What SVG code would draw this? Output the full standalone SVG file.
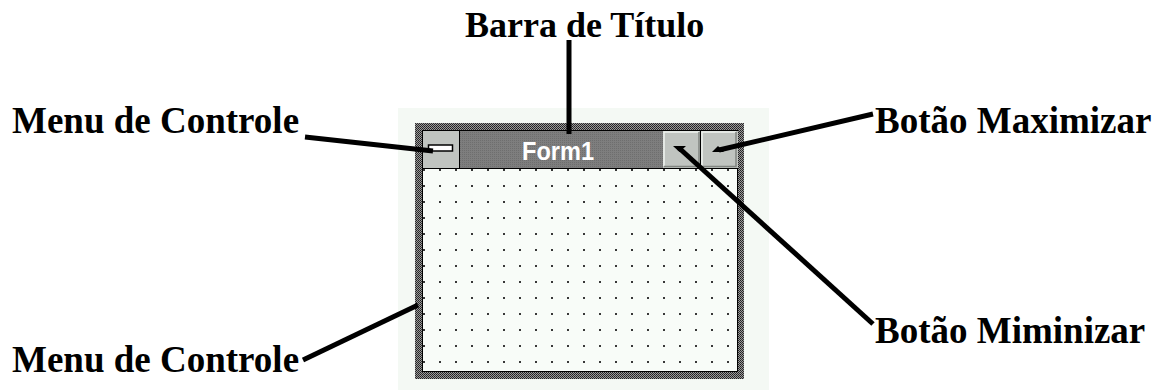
<svg xmlns="http://www.w3.org/2000/svg" width="1160" height="390" viewBox="0 0 1160 390">
  <style>
    .lbl { font-family: "Liberation Serif", "Times New Roman", serif; font-weight: bold; font-size: 37px; fill: #000; }
    .lead { stroke: #000; stroke-width: 5; fill: none; stroke-linecap: butt; }
    .hi { stroke: #f0f4f0; stroke-width: 1.5; fill: none; }
    .sh { stroke: #808480; stroke-width: 1.5; fill: none; }
  </style>
  <defs>
    <pattern id="hatch" patternUnits="userSpaceOnUse" width="2" height="2">
      <rect width="2" height="2" fill="#9a9a9a"/>
      <rect width="1" height="1" fill="#202020"/>
      <rect x="1" y="1" width="1" height="1" fill="#303030"/>
    </pattern>
    <pattern id="titlehatch" patternUnits="userSpaceOnUse" width="2" height="2">
      <rect width="2" height="2" fill="#7e7e7e"/>
      <rect width="1" height="1" fill="#6e6e6e"/>
    </pattern>
    <pattern id="dots" patternUnits="userSpaceOnUse" x="423" y="169" width="16" height="16">
      <rect width="16" height="16" fill="#f8fcf8"/>
      <rect x="0" y="0" width="2" height="2" fill="#383838"/>
    </pattern>
  </defs>
  <rect width="1160" height="390" fill="#ffffff"/>

  <g id="window">
    <rect x="398" y="108" width="371" height="282" fill="#f4f9f4"/>
    <rect x="415" y="123" width="329" height="256" fill="url(#hatch)"/>
    <rect x="422" y="130" width="316" height="242" fill="#000"/>
    <rect x="423" y="169" width="314" height="202" fill="url(#dots)"/>
    <rect x="459" y="131" width="204" height="37" fill="url(#titlehatch)"/>
    <line x1="422" y1="168.5" x2="738" y2="168.5" stroke="#000" stroke-width="1"/>
    <text x="558" y="160" text-anchor="middle" font-family="Liberation Sans, Arial, sans-serif" font-weight="bold" font-size="25" fill="#ffffff" textLength="72" lengthAdjust="spacingAndGlyphs">Form1</text>
  </g>

  <g id="control-box">
    <rect x="423" y="131" width="36" height="37" fill="#c0c4c0"/>
    <line x1="459.5" y1="131" x2="459.5" y2="168" stroke="#000" stroke-width="1"/>
    <rect x="428.5" y="145" width="24" height="6" fill="#ffffff" stroke="#000" stroke-width="1.5"/>
  </g>

  <g id="minimize-button">
    <rect x="663" y="131" width="37" height="37" fill="#c0c4c0"/>
    <polyline class="hi" points="664,166 664,132 699,132"/>
    <polyline class="sh" points="664,166.5 699,166.5 699,132"/>
    <line x1="700.5" y1="131" x2="700.5" y2="168" stroke="#000" stroke-width="1"/>
    <polygon points="673,146 686,146 679.5,152" fill="#000"/>
  </g>

  <g id="maximize-button">
    <rect x="701" y="131" width="37" height="37" fill="#c0c4c0"/>
    <polyline class="hi" points="702,166 702,132 736,132"/>
    <polyline class="sh" points="702,166.5 736,166.5 736,132"/>
    <polygon points="712,152 724,152 718,146" fill="#000"/>
  </g>

  <g id="labels">
    <text class="lbl" x="465" y="37" style="font-size:36px">Barra de Título</text>
    <text class="lbl" x="12" y="133">Menu de Controle</text>
    <text class="lbl" x="875" y="133">Botão Maximizar</text>
    <text class="lbl" x="875" y="343">Botão Miminizar</text>
    <text class="lbl" x="12" y="372">Menu de Controle</text>
  </g>

  <g id="connectors">
    <line class="lead" x1="569" y1="40" x2="569" y2="134"/>
    <line class="lead" x1="305" y1="137" x2="433" y2="151"/>
    <line class="lead" x1="873" y1="114" x2="719" y2="150"/>
    <line class="lead" x1="679" y1="148" x2="873" y2="324"/>
    <line class="lead" x1="303" y1="360" x2="418" y2="305"/>
  </g>
</svg>
